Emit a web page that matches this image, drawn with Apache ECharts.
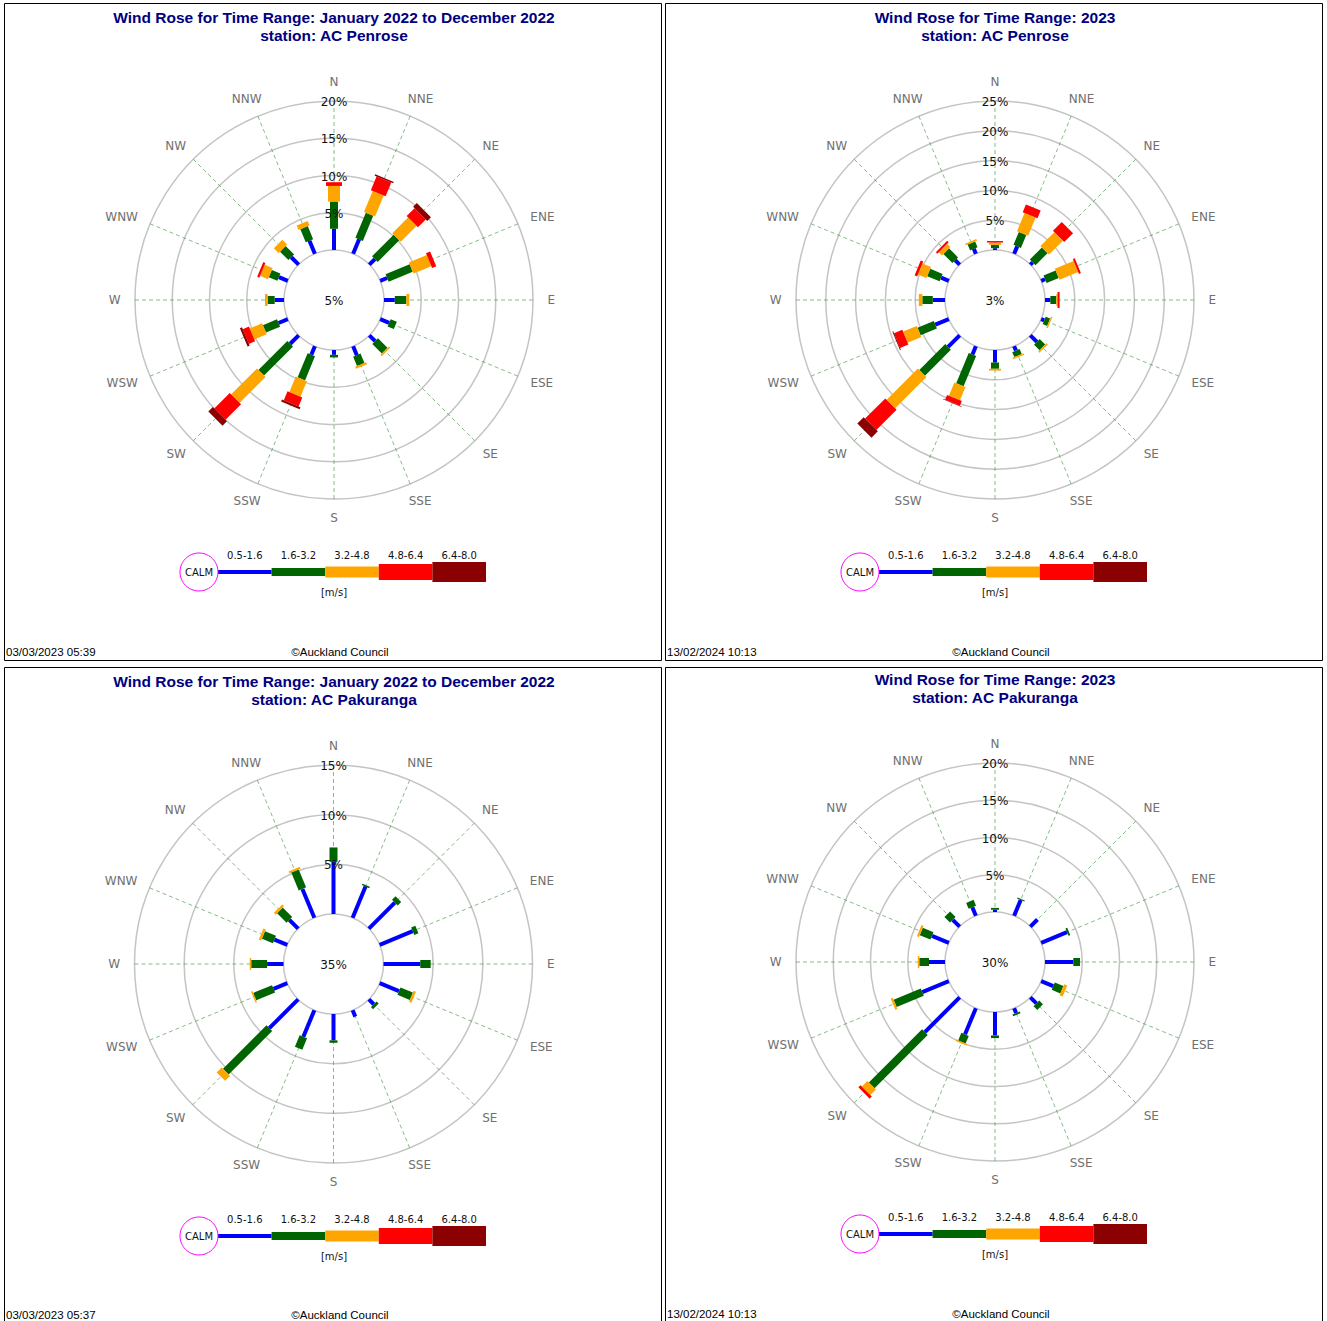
<!DOCTYPE html>
<html>
<head>
<meta charset="utf-8">
<title>Wind Roses – AC Penrose and AC Pakuranga</title>
<script src="https://cdn.jsdelivr.net/npm/echarts@6/dist/echarts.min.js"></script>
<style>
  html, body { margin: 0; padding: 0; background: #ffffff; }
  #chart { width: 1327px; height: 1321px; }
</style>
</head>
<body>
<div id="chart"></div>
<script>
// Compass sectors and wind speed classes [m/s]
const directions = ['N', 'NNE', 'NE', 'ENE', 'E', 'ESE', 'SE', 'SSE', 'S', 'SSW', 'SW', 'WSW', 'W', 'WNW', 'NW', 'NNW'];
const speedBins = ['0.5-1.6', '1.6-3.2', '3.2-4.8', '4.8-6.4', '6.4-8.0'];

// AC Penrose, January 2022 to December 2022 — frequency (%) per sector and speed class
const penrose2022Bin1 = [2.85, 2.1, 1.05, 1.0, 1.45, 1.3, 1.1, 1.3, 0.65, 1.25, 1.6, 1.35, 1.25, 1.3, 1.4, 1.9];
const penrose2022Bin2 = [3.65, 3.65, 4.1, 3.5, 1.55, 0.9, 1.8, 1.35, 0.35, 3.5, 5.5, 2.05, 0.95, 1.25, 1.6, 1.9];
const penrose2022Bin3 = [2.1, 3.05, 3.0, 2.6, 0.4, 0, 0.25, 0.3, 0, 2.25, 4.9, 1.8, 0.35, 1.15, 0.9, 0.65];
const penrose2022Bin4 = [0.5, 2.0, 1.5, 0.6, 0, 0, 0, 0, 0, 1.3, 2.95, 0.9, 0, 0.3, 0, 0];
const penrose2022Bin5 = [0, 0.2, 0.7, 0, 0, 0, 0, 0, 0, 0.3, 0.85, 0.3, 0, 0, 0, 0];
const penrose2022Calm = 5;
const penrose2022Rings = [5, 10, 15, 20];

// AC Penrose, 2023
const penrose2023Bin1 = [0.3, 1.35, 0.55, 0.7, 0.9, 0.55, 1.55, 0.8, 2.1, 1.5, 2.75, 2.45, 2.05, 1.4, 1.05, 0.9];
const penrose2023Bin2 = [0.55, 2.35, 2.85, 2.2, 1.0, 0.8, 1.3, 0.9, 1.05, 5.5, 6.15, 2.95, 1.75, 2.25, 2.15, 1.05];
const penrose2023Bin3 = [0.4, 3.3, 3.3, 3.4, 0.2, 0.25, 0.3, 0.25, 0.3, 2.4, 7.4, 2.5, 0.6, 1.55, 0.75, 0.3];
const penrose2023Bin4 = [0.25, 1.4, 2.1, 0.35, 0.35, 0, 0, 0, 0, 0.85, 4.8, 1.5, 0, 0.45, 0.35, 0];
const penrose2023Bin5 = [0, 0, 0, 0, 0, 0, 0, 0, 0, 0.1, 1.5, 0.15, 0, 0, 0, 0];
const penrose2023Calm = 3;
const penrose2023Rings = [5, 10, 15, 20, 25];

// AC Pakuranga, January 2022 to December 2022
const pakuranga2022Bin1 = [5.25, 3.4, 3.7, 3.6, 3.7, 2.1, 0.7, 0.7, 2.65, 2.9, 4.1, 1.5, 1.65, 1.4, 1.25, 3.15];
const pakuranga2022Bin2 = [1.45, 0.15, 0.5, 0.45, 1.05, 1.35, 0.3, 0, 0.25, 1.25, 6.2, 2.05, 1.6, 1.2, 1.35, 1.95];
const pakuranga2022Bin3 = [0, 0, 0, 0, 0, 0.25, 0, 0, 0, 0, 0.7, 0.15, 0.15, 0.25, 0.25, 0.2];
const pakuranga2022Bin4 = [0, 0, 0, 0, 0, 0, 0, 0, 0, 0, 0, 0, 0, 0, 0, 0];
const pakuranga2022Bin5 = [0, 0, 0, 0, 0, 0, 0, 0, 0, 0, 0, 0, 0, 0, 0, 0];
const pakuranga2022Calm = 35;
const pakuranga2022Rings = [5, 10, 15];

// AC Pakuranga, 2023
const pakuranga2023Bin1 = [0.3, 2.3, 1.35, 3.75, 3.8, 1.75, 1.15, 0.7, 3.15, 3.8, 6.6, 3.85, 2.15, 2.45, 1.3, 1.25];
const pakuranga2023Bin2 = [0.25, 0.15, 0, 0.25, 0.9, 1.25, 0.7, 0.25, 0.35, 1.1, 10.1, 3.95, 1.3, 1.55, 1.05, 0.85];
const pakuranga2023Bin3 = [0, 0, 0, 0, 0, 0.45, 0, 0, 0, 0.2, 1.05, 0.3, 0.2, 0.3, 0, 0];
const pakuranga2023Bin4 = [0, 0, 0, 0, 0, 0, 0, 0, 0, 0, 0.4, 0, 0, 0, 0, 0];
const pakuranga2023Bin5 = [0, 0, 0, 0, 0, 0, 0, 0, 0, 0, 0, 0, 0, 0, 0, 0];
const pakuranga2023Calm = 30;
const pakuranga2023Rings = [5, 10, 15, 20];

// Drawing styles
const binColors = ['#0000ff', '#006400', '#ffa500', '#ff0000', '#8b0000'];
const barWidths = [4, 8, 12, 16, 20];
const legendHeights = [4, 8, 11, 16, 20];
const LABEL_FONT = '"DejaVu Sans", Verdana, sans-serif';
const HEAD_FONT = '"Liberation Sans", Arial, sans-serif';
const SECTOR = 360 / directions.length;

const panels = [
  {
    ox: 0, oy: 0, cx: 334, cy: 300, footY: 652,
    title: 'Wind Rose for Time Range: January 2022 to December 2022', station: 'station: AC Penrose',
    stamp: '03/03/2023 05:39',
    bins: [penrose2022Bin1, penrose2022Bin2, penrose2022Bin3, penrose2022Bin4, penrose2022Bin5],
    calm: penrose2022Calm, rings: penrose2022Rings
  },
  {
    ox: 661, oy: 0, cx: 995, cy: 300, footY: 652,
    title: 'Wind Rose for Time Range: 2023', station: 'station: AC Penrose',
    stamp: '13/02/2024 10:13',
    bins: [penrose2023Bin1, penrose2023Bin2, penrose2023Bin3, penrose2023Bin4, penrose2023Bin5],
    calm: penrose2023Calm, rings: penrose2023Rings
  },
  {
    ox: 0, oy: 664, cx: 333.5, cy: 964, footY: 1314.5,
    title: 'Wind Rose for Time Range: January 2022 to December 2022', station: 'station: AC Pakuranga',
    stamp: '03/03/2023 05:37',
    bins: [pakuranga2022Bin1, pakuranga2022Bin2, pakuranga2022Bin3, pakuranga2022Bin4, pakuranga2022Bin5],
    calm: pakuranga2022Calm, rings: pakuranga2022Rings
  },
  {
    ox: 661, oy: 662, cx: 995, cy: 962, footY: 1314,
    title: 'Wind Rose for Time Range: 2023', station: 'station: AC Pakuranga',
    stamp: '13/02/2024 10:13',
    bins: [pakuranga2023Bin1, pakuranga2023Bin2, pakuranga2023Bin3, pakuranga2023Bin4, pakuranga2023Bin5],
    calm: pakuranga2023Calm, rings: pakuranga2023Rings
  }
];

const frames = [
  { x: 4.5, y: 3.5, width: 657, height: 657 },
  { x: 665.5, y: 3.5, width: 657, height: 657 },
  { x: 4.5, y: 667.5, width: 657, height: 700 },
  { x: 665.5, y: 667.5, width: 657, height: 700 }
];

// Stacked segments: [end, sector angle, start, speed class]
function barItems(bins) {
  const items = [];
  directions.forEach(function (d, i) {
    let acc = 0;
    bins.forEach(function (arr, b) {
      const v = arr[i];
      if (v > 0) items.push([acc + v, i * SECTOR, acc, b]);
      acc += v;
    });
  });
  return items;
}

// Each segment is a straight rectangle laid along its sector's spoke
function renderBar(params, api) {
  const r1 = api.value(0), ang = api.value(1), r0 = api.value(2), bin = api.value(3);
  const a = api.coord([r0, ang]);
  const b = api.coord([r1, ang]);
  const dx = b[0] - a[0], dy = b[1] - a[1];
  const len = Math.hypot(dx, dy) || 1;
  const h = barWidths[bin] / 2;
  const nx = -dy / len * h, ny = dx / len * h;
  return {
    type: 'polygon',
    shape: { points: [[a[0] + nx, a[1] + ny], [b[0] + nx, b[1] + ny], [b[0] - nx, b[1] - ny], [a[0] - nx, a[1] - ny]] },
    style: { fill: binColors[bin] }
  };
}

const measureCtx = document.createElement('canvas').getContext('2d');
function textWidth(t) {
  measureCtx.font = '12px ' + LABEL_FONT;
  return measureCtx.measureText(t).width;
}

// Compass names: label box pushed outward from a circle just outside the outer ring
function renderDirLabel(params, api) {
  const cs = params.coordSys;
  const p = api.coord([api.value(0), api.value(1)]);
  const ux = (p[0] - cs.cx) / cs.r, uy = (p[1] - cs.cy) / cs.r;
  const name = directions[params.dataIndex];
  const base = cs.r + 14.5;
  return {
    type: 'text',
    style: {
      x: cs.cx + ux * (base + textWidth(name) / 2),
      y: cs.cy + uy * (base + 4.5),
      text: name,
      align: 'center', verticalAlign: 'middle',
      fontSize: 12, fontFamily: LABEL_FONT, fill: '#707070'
    }
  };
}

// Ring percentages along the north spoke
function renderRingLabel(params, api) {
  const p = api.coord([api.value(0), 0]);
  return {
    type: 'text',
    style: {
      x: p[0], y: p[1] + 1,
      text: api.value(0) + '%',
      align: 'center', verticalAlign: 'middle',
      fontSize: 12, fontFamily: LABEL_FONT, fill: '#111111'
    }
  };
}

const polar = [], angleAxis = [], radiusAxis = [], series = [], graphics = [];

panels.forEach(function (pn, i) {
  const maxRing = pn.rings[pn.rings.length - 1];
  polar.push({ center: [pn.cx, pn.cy], radius: [50, 199] });
  angleAxis.push({
    polarIndex: i, type: 'value', min: 0, max: 360, interval: SECTOR,
    startAngle: 90, clockwise: true,
    axisLine: { show: false }, axisTick: { show: false }, axisLabel: { show: false },
    splitLine: { show: true, lineStyle: { color: '#4f9a4f', width: 0.8, type: [4, 3], opacity: 0.85 } }
  });
  radiusAxis.push({
    polarIndex: i, type: 'value', min: 0, max: maxRing, interval: 5,
    axisLine: { show: false }, axisTick: { show: false }, axisLabel: { show: false },
    splitLine: { show: true, lineStyle: { color: '#c4c4c4', width: 1.5 } }
  });
  series.push({
    type: 'custom', coordinateSystem: 'polar', polarIndex: i, z: 3,
    encode: { radius: 0, angle: 1 },
    data: barItems(pn.bins), renderItem: renderBar
  });
  series.push({
    type: 'custom', coordinateSystem: 'polar', polarIndex: i, z: 4, silent: true,
    encode: { radius: 0, angle: 1 },
    data: directions.map(function (d, k) { return [maxRing, k * SECTOR]; }), renderItem: renderDirLabel
  });
  series.push({
    type: 'custom', coordinateSystem: 'polar', polarIndex: i, z: 5, silent: true,
    encode: { radius: 0, angle: 1 },
    data: pn.rings.map(function (v) { return [v, 0]; }), renderItem: renderRingLabel
  });

  // calm percentage in the centre
  graphics.push({
    type: 'text', z: 10,
    style: { x: pn.cx, y: pn.cy + 1, text: pn.calm + '%', align: 'center', verticalAlign: 'middle',
      fontSize: 12, fontFamily: LABEL_FONT, fill: '#111111' }
  });

  // heading
  graphics.push({
    type: 'text', z: 10,
    style: { x: 334 + pn.ox, y: 17 + pn.oy, text: pn.title, align: 'center', verticalAlign: 'middle',
      fontSize: 15.5, fontWeight: 'bold', fontFamily: HEAD_FONT, fill: '#000080' }
  });
  graphics.push({
    type: 'text', z: 10,
    style: { x: 334 + pn.ox, y: 35 + pn.oy, text: pn.station, align: 'center', verticalAlign: 'middle',
      fontSize: 15.5, fontWeight: 'bold', fontFamily: HEAD_FONT, fill: '#000080' }
  });

  // speed legend
  const lx0 = 218 + pn.ox, ly = 572 + pn.oy, seg = 53.6;
  speedBins.forEach(function (name, b) {
    const hgt = legendHeights[b];
    graphics.push({
      type: 'rect', z: 10,
      shape: { x: lx0 + b * seg, y: ly - hgt / 2, width: seg, height: hgt },
      style: { fill: binColors[b] }
    });
    graphics.push({
      type: 'text', z: 10,
      style: { x: lx0 + (b + 0.5) * seg, y: 555.5 + pn.oy, text: name, align: 'center', verticalAlign: 'middle',
        fontSize: 10, fontFamily: LABEL_FONT, fill: '#111111' }
    });
  });
  graphics.push({
    type: 'circle', z: 11,
    shape: { cx: 199 + pn.ox, cy: ly, r: 19 },
    style: { fill: '#ffffff', stroke: '#ff00ff', lineWidth: 1 }
  });
  graphics.push({
    type: 'text', z: 12,
    style: { x: 199 + pn.ox, y: ly, text: 'CALM', align: 'center', verticalAlign: 'middle',
      fontSize: 10, fontFamily: LABEL_FONT, fill: '#111111' }
  });
  graphics.push({
    type: 'text', z: 10,
    style: { x: 334 + pn.ox, y: 592 + pn.oy, text: '[m/s]', align: 'center', verticalAlign: 'middle',
      fontSize: 10, fontFamily: LABEL_FONT, fill: '#111111' }
  });

  // footer
  graphics.push({
    type: 'text', z: 10,
    style: { x: 6 + pn.ox, y: pn.footY, text: pn.stamp, align: 'left', verticalAlign: 'middle',
      fontSize: 11.5, fontFamily: HEAD_FONT, fill: '#000000' }
  });
  graphics.push({
    type: 'text', z: 10,
    style: { x: 340 + pn.ox, y: pn.footY, text: '\u00A9Auckland Council', align: 'center', verticalAlign: 'middle',
      fontSize: 11.5, fontFamily: HEAD_FONT, fill: '#000000' }
  });
});

frames.forEach(function (f) {
  graphics.push({
    type: 'rect', z: 20,
    shape: { x: f.x, y: f.y, width: f.width, height: f.height },
    style: { fill: 'none', stroke: '#000000', lineWidth: 1 }
  });
});

const chart = echarts.init(document.getElementById('chart'), null, { renderer: 'svg' });
chart.setOption({
  animation: false,
  backgroundColor: '#ffffff',
  polar: polar,
  angleAxis: angleAxis,
  radiusAxis: radiusAxis,
  series: series,
  graphic: { elements: graphics }
});
</script>
</body>
</html>
